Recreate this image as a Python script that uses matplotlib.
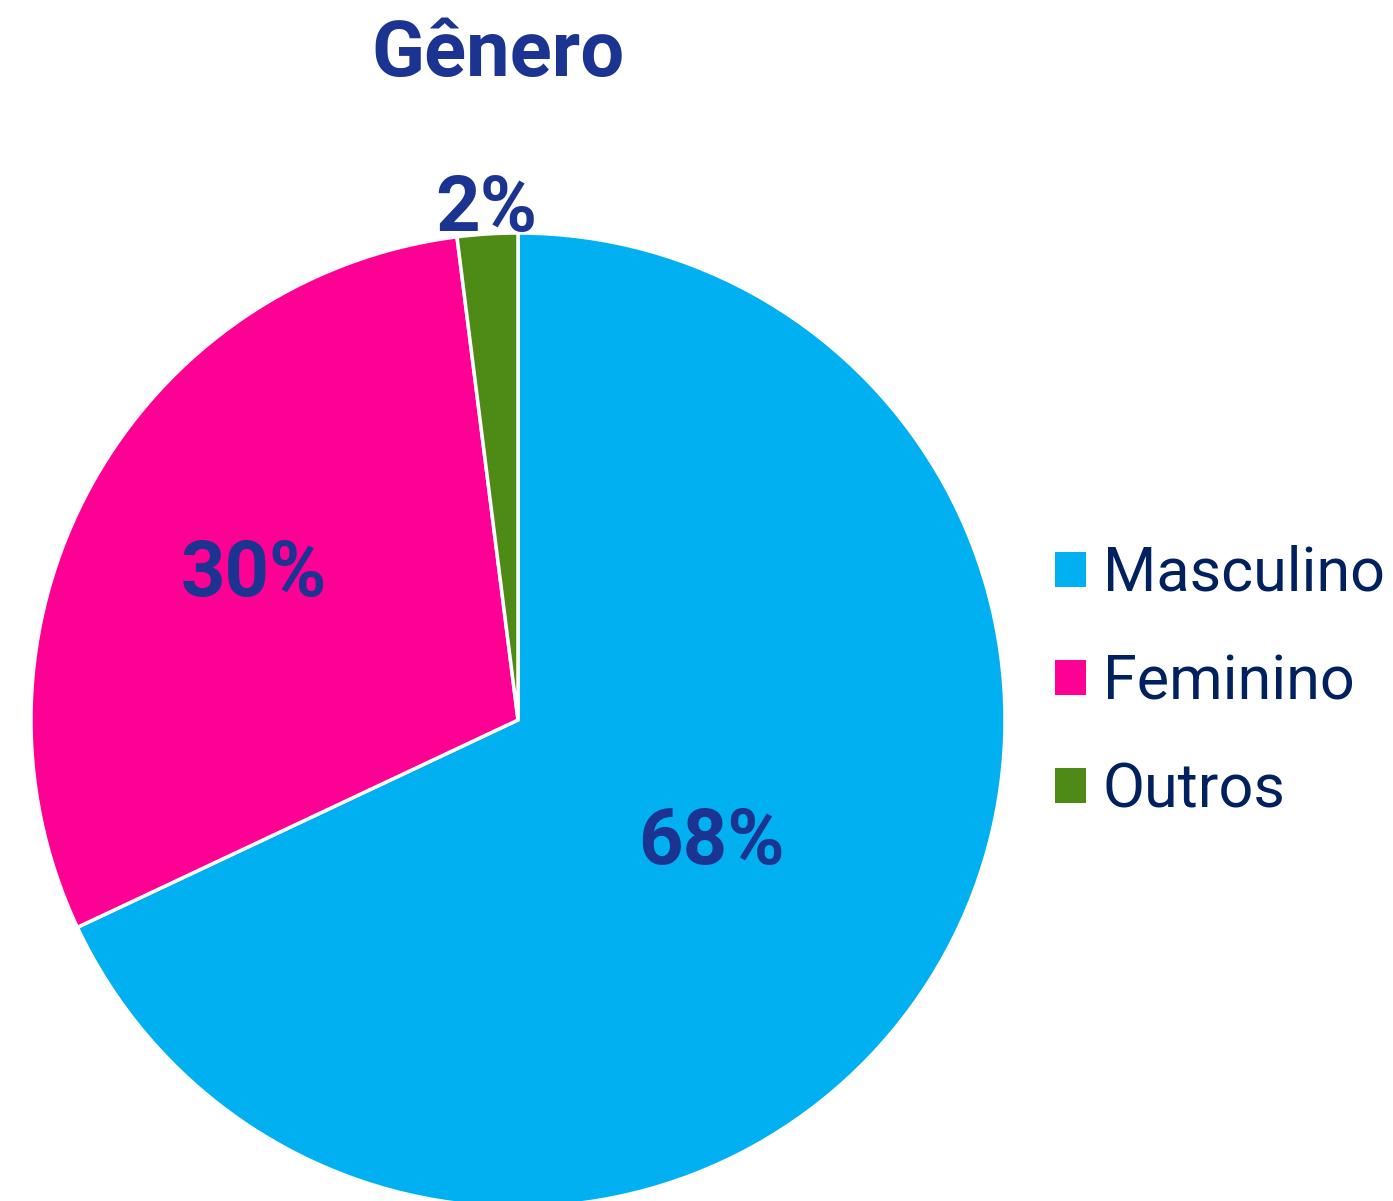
import numpy as np
import matplotlib.pyplot as plt
from matplotlib.patches import Patch

# data
categories = ["Masculino", "Feminino", "Outros"]
values = [68, 30, 2]
pct_labels = ["68%", "30%", "2%"]
colors = ["#00B0F0", "#FF0095", "#4E8A16"]
label_dist = [0.47, 0.62, 1.05]

TITLE = "Gênero"
LABEL_COLOR = "#1B3391"
LEGEND_COLOR = "#002060"

plt.rcParams["font.family"] = ["Roboto", "DejaVu Sans"]

fig = plt.figure(figsize=(13.93, 12.01), dpi=100)

# pie centre at (518, 720) px, radius ~487 px
W, H = 1393, 1201
cx, cy, r = 518 / W, 1 - 720 / H, 487
ax = fig.add_axes([cx - r / W, cy - r / H, 2 * r / W, 2 * r / H])

wedges, _ = ax.pie(values, colors=colors, startangle=90, counterclock=False,
                   radius=1, wedgeprops=dict(edgecolor="white", linewidth=2.5))
ax.set_xlim(-1, 1)
ax.set_ylim(-1, 1)
ax.set_aspect("equal")
ax.axis("off")

for w, txt, d in zip(wedges, pct_labels, label_dist):
    ang = np.deg2rad((w.theta1 + w.theta2) / 2)
    ax.text(d * np.cos(ang), d * np.sin(ang), txt, ha="center", va="center",
            fontsize=56, fontweight="bold", color=LABEL_COLOR, clip_on=False)

fig.text(498 / W, 1 - 55 / H, TITLE, ha="center", va="center",
         fontsize=56, fontweight="bold", color=LABEL_COLOR)

handles = [Patch(facecolor=c, edgecolor="none") for c in colors]
leg = fig.legend(handles, categories, loc="center left",
                 bbox_to_anchor=(1055 / W, 1 - 682 / H), frameon=False,
                 fontsize=44, handlelength=0.5, handleheight=0.5, borderpad=0,
                 borderaxespad=0, handletextpad=0.28, labelspacing=0.82)
for t in leg.get_texts():
    t.set_color(LEGEND_COLOR)

fig.savefig("out.png", dpi=100)
